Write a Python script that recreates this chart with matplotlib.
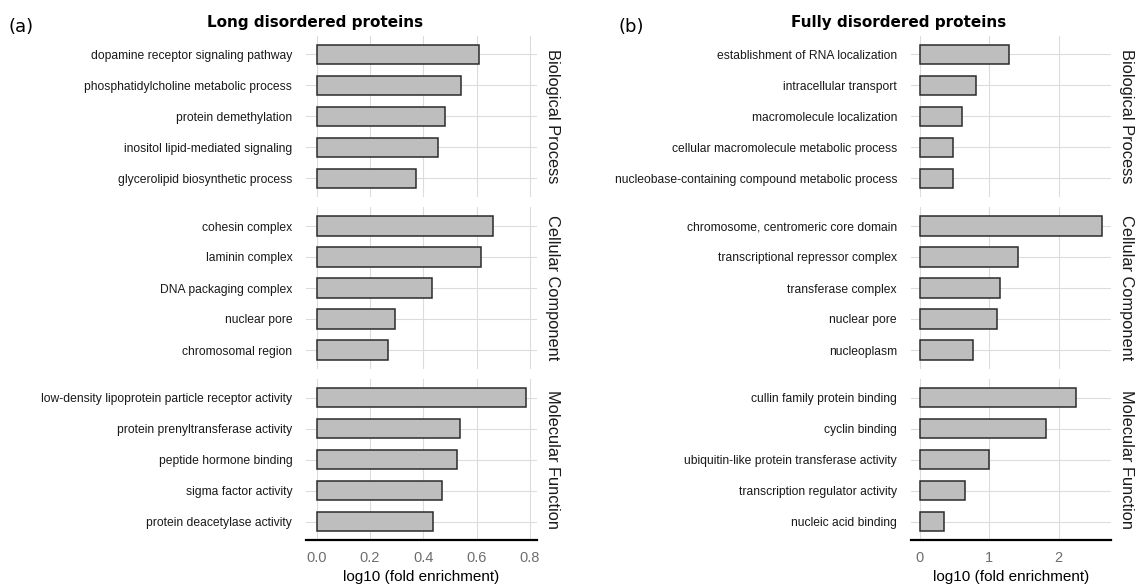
import matplotlib
matplotlib.use('Agg')
import matplotlib.pyplot as plt

plt.rcParams['font.family'] = ['Liberation Sans', 'DejaVu Sans']

# GO enrichment results, top five terms per ontology
ontologies = ['Biological Process', 'Cellular Component', 'Molecular Function']

long_terms = [
    ['dopamine receptor signaling pathway', 'phosphatidylcholine metabolic process',
     'protein demethylation', 'inositol lipid-mediated signaling',
     'glycerolipid biosynthetic process'],
    ['cohesin complex', 'laminin complex', 'DNA packaging complex',
     'nuclear pore', 'chromosomal region'],
    ['low-density lipoprotein particle receptor activity',
     'protein prenyltransferase activity', 'peptide hormone binding',
     'sigma factor activity', 'protein deacetylase activity'],
]
long_values = [
    [0.610, 0.542, 0.483, 0.454, 0.371],
    [0.661, 0.618, 0.433, 0.295, 0.266],
    [0.787, 0.539, 0.528, 0.472, 0.438],
]

full_terms = [
    ['establishment of RNA localization', 'intracellular transport',
     'macromolecule localization', 'cellular macromolecule metabolic process',
     'nucleobase-containing compound metabolic process'],
    ['chromosome, centromeric core domain', 'transcriptional repressor complex',
     'transferase complex', 'nuclear pore', 'nucleoplasm'],
    ['cullin family protein binding', 'cyclin binding',
     'ubiquitin-like protein transferase activity',
     'transcription regulator activity', 'nucleic acid binding'],
]
full_values = [
    [1.28, 0.81, 0.60, 0.48, 0.48],
    [2.62, 1.41, 1.16, 1.11, 0.76],
    [2.25, 1.82, 1.00, 0.655, 0.35],
]

long_ticks = [0.0, 0.2, 0.4, 0.6, 0.8]
long_ticklabels = ['0.0', '0.2', '0.4', '0.6', '0.8']
full_ticks = [0, 1, 2]
full_ticklabels = ['0', '1', '2']

W, H = 1136, 587
fig = plt.figure(figsize=(W / 100, H / 100), dpi=100)

GRID = '#DCDCDC'

# facet rows in pixels (top, bottom)
rows = [(35.7, 196.9), (207.4, 368.6), (379.1, 540.3)]


def draw_panel(x0, x1, terms, values, ticks, ticklabels, title, tag, title_x, tag_x):
    vmax = max(max(v) for v in values)
    pad = vmax * 0.05
    for i, (top, bot) in enumerate(rows):
        ax = fig.add_axes([x0 / W, 1 - bot / H, (x1 - x0) / W, (bot - top) / H])
        n = len(terms[i])
        ypos = list(range(n - 1, -1, -1))
        for t in ticks:
            ax.axvline(t, color=GRID, lw=0.8, zorder=0)
        for y in ypos:
            ax.axhline(y, color=GRID, lw=0.8, zorder=0)
        ax.barh(ypos, values[i], height=0.62, color='#BEBEBE',
                edgecolor='#2B2B2B', linewidth=1.1, zorder=2)
        ax.set_xlim(-pad, vmax + pad)
        ax.set_ylim(-0.6, n - 0.4)
        ax.set_yticks(ypos)
        ax.set_yticklabels(terms[i], fontsize=8.7, color='#1A1A1A')
        ax.tick_params(axis='y', length=0, pad=10)
        for s in ax.spines.values():
            s.set_visible(False)
        ax.set_xticks(ticks)
        if i == len(rows) - 1:
            ax.spines['bottom'].set_visible(True)
            ax.spines['bottom'].set_linewidth(1.6)
            ax.spines['bottom'].set_color('black')
            ax.set_xticklabels(ticklabels, fontsize=10.5, color='#6E6E6E')
            ax.tick_params(axis='x', length=0, pad=8)
            ax.set_xlabel('log10 (fold enrichment)', fontsize=11, labelpad=3)
        else:
            ax.tick_params(axis='x', length=0, labelbottom=False)
        # facet strip label on the right
        ax.text(1.0 + 16 / (x1 - x0), 0.5, ontologies[i], transform=ax.transAxes,
                rotation=270, ha='center', va='center', fontsize=11.8,
                color='#1A1A1A')
    fig.text(title_x / W, 1 - 22 / H, title, fontsize=11, fontweight='bold',
             family='DejaVu Sans', ha='center', va='center')
    fig.text(tag_x / W, 1 - 27 / H, tag, fontsize=13, family='DejaVu Sans',
             ha='left', va='center')


draw_panel(306.2, 536.9, long_terms, long_values, long_ticks, long_ticklabels,
           'Long disordered proteins', '(a)', 315, 8)
draw_panel(910.9, 1110.6, full_terms, full_values, full_ticks, full_ticklabels,
           'Fully disordered proteins', '(b)', 899, 618)

fig.savefig('out.png', dpi=100, facecolor='white')
